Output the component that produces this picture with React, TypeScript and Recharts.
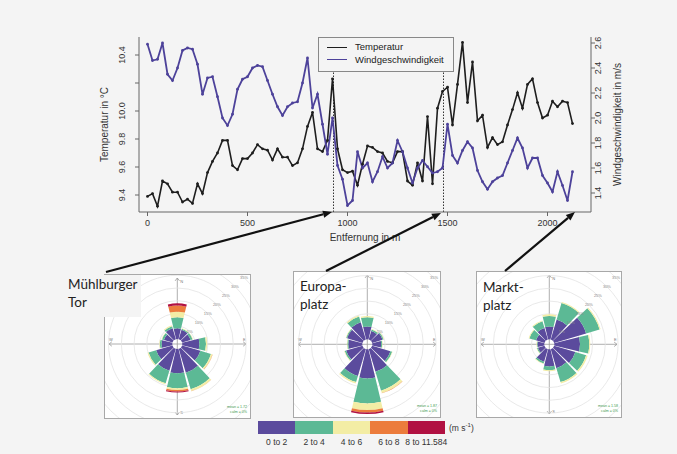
import React from 'react';
import {
  LineChart, Line, XAxis, YAxis, ReferenceLine, Legend,
  RadialBarChart, RadialBar, PolarGrid, PolarAngleAxis, PolarRadiusAxis,
} from 'recharts';

const FONT = '"Liberation Sans", Arial, sans-serif';
const LABEL_FONT = 'Lato, "Open Sans", sans-serif';
const PAGE_BG = '#f4f4f4';
const AXIS = '#666';
const TEXT = '#333';

// ---------- profile data ----------
const distance = [0,25,50,75,100,125,150,175,200,225,250,275,300,325,350,375,400,425,450,475,500,525,550,575,600,625,650,675,700,725,750,775,800,825,850,875,900,925,950,975,1000,1025,1050,1075,1100,1125,1150,1175,1200,1225,1250,1275,1300,1325,1350,1375,1400,1425,1450,1475,1500,1525,1550,1575,1600,1625,1650,1675,1700,1725,1750,1775,1800,1825,1850,1875,1900,1925,1950,1975,2000,2025,2050,2075,2100,2125];
const temperature = [9.39,9.41,9.32,9.50,9.48,9.42,9.42,9.35,9.37,9.34,9.48,9.41,9.56,9.64,9.70,9.79,9.79,9.61,9.58,9.66,9.66,9.70,9.76,9.73,9.72,9.65,9.73,9.67,9.67,9.61,9.63,9.73,9.89,9.99,9.73,9.71,9.79,10.23,9.73,9.58,9.56,9.57,9.47,9.62,9.75,9.74,9.71,9.70,9.64,9.63,9.71,9.71,9.50,9.47,9.63,9.50,9.96,9.48,10.02,10.14,10.17,9.90,10.19,10.49,10.06,10.35,9.93,9.97,9.74,9.81,9.76,9.78,9.90,10.01,10.13,10.02,10.19,10.23,10.06,9.95,9.97,10.07,10.03,10.07,10.06,9.91];
const windSpeed = [2.59,2.46,2.47,2.60,2.35,2.30,2.40,2.54,2.56,2.55,2.43,2.19,2.32,2.33,2.17,2.00,1.94,2.03,2.23,2.31,2.33,2.40,2.42,2.41,2.30,2.19,2.09,2.02,2.09,2.12,2.13,2.28,2.48,2.08,2.19,1.95,1.71,2.00,1.62,1.51,1.30,1.34,1.73,1.60,1.64,1.49,1.57,1.69,1.60,1.64,1.82,1.73,1.60,1.48,1.60,1.66,1.61,1.56,1.57,1.60,1.95,1.70,1.64,1.74,1.81,1.76,1.58,1.49,1.43,1.49,1.52,1.54,1.64,1.74,1.84,1.76,1.60,1.68,1.68,1.54,1.48,1.41,1.57,1.46,1.34,1.57];
const xTicks = [0, 500, 1000, 1500, 2000];
const tempTicks = [9.4, 9.6, 9.8, 10.0, 10.2, 10.4];
const windTicks = [1.4, 1.6, 1.8, 2.0, 2.2, 2.4, 2.6];
const markerDistances = [930, 1480];

// ---------- wind rose data (% of time per direction and speed class) ----------
const directions = ['N', 'NNE', 'ENE', 'E', 'ESE', 'SSE', 'S', 'SSW', 'WSW', 'W', 'WNW', 'NNW'];
const speedBins = ['0 to 2', '2 to 4', '4 to 6', '6 to 8', '8 to 11.584'];
const speedColors = ['#5b4b9d', '#5cb995', '#f3eda5', '#ec7c3c', '#b11142'];
const percentTicks = [5, 10, 15, 20, 25, 30, 35, 40];

const muehlburgerTor = [
  [4.2, 3.9, 3.5, 6.7, 7.5, 9.8, 9.5, 9.0, 6.7, 4.2, 3.5, 4.5],
  [4.3, 0.4, 0.8, 2.6, 4.3, 6.7, 5.9, 5.1, 3.1, 0.7, 0.8, 0.8],
  [2.2, 0.2, 0.2, 0.5, 0.6, 0.8, 0.7, 0.4, 0.4, 0.2, 0.2, 0.4],
  [2.4, 0, 0, 0, 0.1, 0.1, 0.6, 0, 0, 0, 0, 0],
  [0.9, 0, 0, 0, 0, 0, 0.4, 0, 0, 0, 0, 0],
];
const europaplatz = [
  [5.0, 3.5, 4.3, 3.5, 7.5, 9.3, 11.4, 11.0, 6.7, 5.5, 6.3, 7.1],
  [3.6, 0.6, 0.4, 0.4, 0.7, 7.7, 9.8, 2.5, 0.6, 0.4, 0.4, 2.3],
  [0.5, 0.2, 0.2, 0.2, 0.2, 1.0, 2.6, 0.6, 0.2, 0.2, 0.2, 0.4],
  [0, 0, 0, 0, 0, 0.1, 1.0, 0, 0, 0, 0, 0],
  [0, 0, 0, 0, 0, 0, 0.6, 0, 0, 0, 0, 0],
];
const marktplatz = [
  [5.0, 8.2, 13.1, 10.1, 8.7, 7.8, 6.7, 5.2, 2.7, 2.7, 3.5, 4.7],
  [4.1, 6.7, 5.5, 3.6, 4.4, 5.7, 1.5, 0.7, 0.4, 0.2, 2.7, 2.8],
  [0.7, 0.4, 0.4, 0.4, 0.6, 0.6, 0.4, 0.2, 0.2, 0.2, 0.3, 0.3],
  [0, 0, 0, 0, 0, 0, 0, 0, 0, 0, 0, 0],
  [0, 0, 0, 0, 0, 0, 0, 0, 0, 0, 0, 0],
];

const lineData = distance.map((d, i) => ({ distance: d, temperature: temperature[i], wind: windSpeed[i] }));
const roseRows = (site: number[][]) =>
  directions.map((dir, i) => {
    const row: any = { dir };
    speedBins.forEach((_, b) => { row['s' + b] = site[b][i]; });
    return row;
  });

// ---------- axis pieces ----------
function XTick(props: any) {
  const { x, payload } = props;
  return <text x={x} y={226} textAnchor="middle" fontSize={9} fill={TEXT} fontFamily={FONT}>{payload.value}</text>;
}
function LeftTick(props: any) {
  const { y, payload } = props;
  if (Math.abs(payload.value - 10.2) < 1e-6) return <g />;
  return (
    <text transform={`translate(124.5, ${y}) rotate(-90)`} textAnchor="middle" fontSize={9} fill={TEXT} fontFamily={FONT}>
      {payload.value.toFixed(1)}
    </text>
  );
}
function RightTick(props: any) {
  const { y, payload } = props;
  return (
    <text transform={`translate(601, ${y}) rotate(-90)`} textAnchor="middle" fontSize={9} fill={TEXT} fontFamily={FONT}>
      {payload.value.toFixed(1)}
    </text>
  );
}
function VTitle(props: any) {
  const { viewBox, tx, caption } = props;
  const cy = viewBox && viewBox.height ? viewBox.y + viewBox.height / 2 : 124.5;
  return (
    <text transform={`translate(${tx}, ${cy}) rotate(-90)`} textAnchor="middle" fontSize={10} fill={TEXT} fontFamily={FONT}>
      {caption}
    </text>
  );
}
function HTitle(props: any) {
  const { viewBox, caption } = props;
  const cx = viewBox && viewBox.width ? viewBox.x + viewBox.width / 2 : 365;
  return <text x={cx} y={241} textAnchor="middle" fontSize={10} fill={TEXT} fontFamily={FONT}>{caption}</text>;
}

function LineLegend(props: any) {
  const items = (props.payload || []) as any[];
  return (
    <div style={{
      width: 136, height: 35, boxSizing: 'border-box', border: '1px solid #888', background: PAGE_BG,
      padding: '3px 0 0 8px', fontFamily: FONT, fontSize: 9.5, color: '#222', lineHeight: '12.6px',
    }}>
      {items.map((it) => (
        <div key={it.value} style={{ display: 'flex', alignItems: 'center', whiteSpace: 'nowrap' }}>
          <span style={{ display: 'inline-block', width: 20, height: 0, borderTop: `1.6px solid ${it.color}`, marginRight: 8 }} />
          {it.value}
        </div>
      ))}
    </div>
  );
}

function PctTick(props: any) {
  const { x, y, payload } = props;
  if (payload.value > 35) return <g />;
  return <text x={x} y={y} fontSize={4} fill="#888" textAnchor="middle" dominantBaseline="central" fontFamily={FONT}>{payload.value}%</text>;
}

function Crosshair({ w, h, cx, cy }: { w: number; h: number; cx: number; cy: number }) {
  const c = '#9a9a9a';
  const a = 2.2;
  return (
    <svg width={w} height={h} style={{ position: 'absolute', left: 0, top: 0 }}>
      <line x1={4} y1={cy} x2={w - 4} y2={cy} stroke={c} strokeWidth={0.8} />
      <line x1={cx} y1={3} x2={cx} y2={h - 3} stroke={c} strokeWidth={0.8} />
      <polyline points={`${cx - a},${3 + a * 1.3} ${cx},3 ${cx + a},${3 + a * 1.3}`} fill="none" stroke={c} strokeWidth={0.8} />
      <polyline points={`${cx - a},${h - 3 - a * 1.3} ${cx},${h - 3} ${cx + a},${h - 3 - a * 1.3}`} fill="none" stroke={c} strokeWidth={0.8} />
      <polyline points={`${4 + a * 1.3},${cy - a} 4,${cy} ${4 + a * 1.3},${cy + a}`} fill="none" stroke={c} strokeWidth={0.8} />
      <polyline points={`${w - 4 - a * 1.3},${cy - a} ${w - 4},${cy} ${w - 4 - a * 1.3},${cy + a}`} fill="none" stroke={c} strokeWidth={0.8} />
      <text x={cx + 3} y={8} fontSize={4} fill="#777" fontFamily={FONT}>N</text>
      <text x={cx + 3} y={h - 4} fontSize={4} fill="#777" fontFamily={FONT}>S</text>
      <text x={4} y={cy - 3} fontSize={4} fill="#777" fontFamily={FONT}>W</text>
      <text x={w - 7} y={cy - 3} fontSize={4} fill="#777" fontFamily={FONT}>E</text>
    </svg>
  );
}

function RosePanel(props: {
  left: number; top: number; w: number; h: number; cx: number; cy: number;
  site: number[][]; mean: string;
}) {
  const { left, top, w, h, cx, cy, site, mean } = props;
  const iw = w - 2;
  const ih = h - 2;
  return (
    <div style={{ position: 'absolute', left, top, width: w, height: h, boxSizing: 'border-box', border: '1px solid #a8a8a8', background: '#ffffff' }}>
      <Crosshair w={iw} h={ih} cx={cx} cy={cy} />
      <div style={{ position: 'absolute', left: 0, top: 0 }}>
        <RadialBarChart
          width={iw} height={ih} data={roseRows(site)} layout="centric"
          cx={cx} cy={cy} innerRadius={5} outerRadius={107}
          startAngle={75} endAngle={-285} barCategoryGap="5%"
          margin={{ top: 0, right: 0, bottom: 0, left: 0 }}
        >
          <PolarGrid gridType="circle" radialLines={false} stroke="#e3e3e3" strokeWidth={0.8} />
          <PolarAngleAxis type="category" dataKey="dir" tick={false} axisLine={false} tickLine={false} />
          <PolarRadiusAxis type="number" domain={[0, 40]} ticks={percentTicks} angle={45} axisLine={false} tickLine={false} tick={<PctTick />} allowDataOverflow />
          {speedBins.map((name, b) => (
            <RadialBar key={name} dataKey={'s' + b} name={name} stackId="rose" fill={speedColors[b]} isAnimationActive={false} />
          ))}
        </RadialBarChart>
      </div>
      <div style={{ position: 'absolute', right: 3, bottom: 3, fontSize: 3.6, color: '#3c9a4a', fontFamily: FONT, textAlign: 'right', lineHeight: '5px' }}>
        <div>mean = {mean}</div>
        <div>calm = 0%</div>
      </div>
    </div>
  );
}

function Arrow({ x1, y1, x2, y2 }: { x1: number; y1: number; x2: number; y2: number }) {
  const ang = Math.atan2(y2 - y1, x2 - x1);
  const L = 9;
  const W = 3.6;
  const bx = x2 - L * Math.cos(ang);
  const by = y2 - L * Math.sin(ang);
  const px = -Math.sin(ang) * W;
  const py = Math.cos(ang) * W;
  return (
    <g>
      <line x1={x1} y1={y1} x2={bx} y2={by} stroke="#111" strokeWidth={2.2} />
      <polygon points={`${x2},${y2} ${bx + px},${by + py} ${bx - px},${by - py}`} fill="#111" />
    </g>
  );
}

const labelStyle: React.CSSProperties = {
  position: 'absolute', fontFamily: LABEL_FONT, fontSize: 13.5, color: '#222', lineHeight: '18px', whiteSpace: 'nowrap',
};

export default function App() {
  return (
    <div style={{ position: 'absolute', left: 0, top: 0, width: 677, height: 454, background: PAGE_BG, overflow: 'hidden', fontFamily: FONT }}>
      <div style={{ position: 'absolute', left: 0, top: 0 }}>
        <LineChart width={677} height={255} data={lineData} margin={{ top: 37, right: 0, bottom: 0, left: 0 }}>
          <XAxis
            dataKey="distance" type="number" domain={[-42.5, 2217.5]} allowDataOverflow ticks={xTicks}
            height={43} tick={<XTick />} tickSize={4} tickLine={{ stroke: AXIS }} axisLine={{ stroke: AXIS }}
            label={<HTitle caption="Entfernung in m" />}
          />
          <XAxis xAxisId="top" orientation="top" dataKey="distance" type="number" domain={[-42.5, 2217.5]} allowDataOverflow
            height={0} tick={false} tickLine={false} axisLine={{ stroke: AXIS }} />
          <YAxis
            yAxisId="left" orientation="left" type="number" domain={[9.2786, 10.5286]} allowDataOverflow ticks={tempTicks}
            width={139} tick={<LeftTick />} tickSize={4} tickLine={{ stroke: AXIS }} axisLine={{ stroke: AXIS }}
            label={<VTitle tx={108} caption="Temperatur in °C" />}
          />
          <YAxis
            yAxisId="right" orientation="right" type="number" domain={[1.248, 2.648]} allowDataOverflow ticks={windTicks}
            width={86} tick={<RightTick />} tickSize={4} tickLine={{ stroke: AXIS }} axisLine={{ stroke: AXIS }}
            label={<VTitle tx={621} caption="Windgeschwindigkeit in m/s" />}
          />
          {markerDistances.map((d) => (
            <ReferenceLine key={d} x={d} yAxisId="left" stroke="#333" strokeWidth={1} strokeDasharray="1.5 1.5" />
          ))}
          <Line yAxisId="left" type="linear" dataKey="temperature" name="Temperatur" stroke="#1e1e1e" strokeWidth={1.6}
            dot={{ r: 1.4, fill: '#1e1e1e', stroke: 'none' }} activeDot={false} isAnimationActive={false} />
          <Line yAxisId="right" type="linear" dataKey="wind" name="Windgeschwindigkeit" stroke="#4d429a" strokeWidth={1.8}
            dot={{ r: 1.4, fill: '#4d429a', stroke: 'none' }} activeDot={false} isAnimationActive={false} />
          <Legend layout="vertical" align="center" verticalAlign="middle"
            wrapperStyle={{ left: 318, top: 37, width: 136, height: 35 }} content={(p: any) => <LineLegend {...p} />} />
        </LineChart>
      </div>

      <RosePanel left={104} top={274} w={147} h={145} cx={72.3} cy={69} site={muehlburgerTor} mean="1.72" />
      <RosePanel left={293} top={271} w={148} h={147} cx={73.3} cy={72.3} site={europaplatz} mean="1.87" />
      <RosePanel left={476} top={271} w={146} h={147} cx={72.3} cy={72.3} site={marktplatz} mean="1.58" />

      <div style={{ ...labelStyle, left: 64, top: 275, background: PAGE_BG, padding: '0 4px 6px 4px' }}>
        <div>Mühlburger</div>
        <div>Tor</div>
      </div>
      <div style={{ ...labelStyle, left: 300, top: 277 }}>
        <div>Europa-</div>
        <div>platz</div>
      </div>
      <div style={{ ...labelStyle, left: 483, top: 278 }}>
        <div>Markt-</div>
        <div>platz</div>
      </div>

      <div style={{ position: 'absolute', left: 258, top: 421, display: 'flex' }}>
        {speedColors.map((c) => <div key={c} style={{ width: 37.4, height: 13, background: c }} />)}
      </div>
      {speedBins.map((name, b) => (
        <div key={name} style={{ position: 'absolute', left: 258 + 37.4 * b + 18.7 - 30, top: 437, width: 60, textAlign: 'center', fontSize: 8.5, color: '#333', fontFamily: FONT }}>
          {name}
        </div>
      ))}
      <div style={{ position: 'absolute', left: 449, top: 422, fontSize: 8.5, color: '#333', fontFamily: FONT }}>
        (m s<sup style={{ fontSize: 6 }}>-1</sup>)
      </div>

      <svg width={677} height={454} style={{ position: 'absolute', left: 0, top: 0, pointerEvents: 'none' }}>
        <Arrow x1={106} y1={272} x2={332} y2={212} />
        <Arrow x1={326} y1={271} x2={441} y2={213} />
        <Arrow x1={505} y1={271} x2={575} y2={212} />
      </svg>
    </div>
  );
}
